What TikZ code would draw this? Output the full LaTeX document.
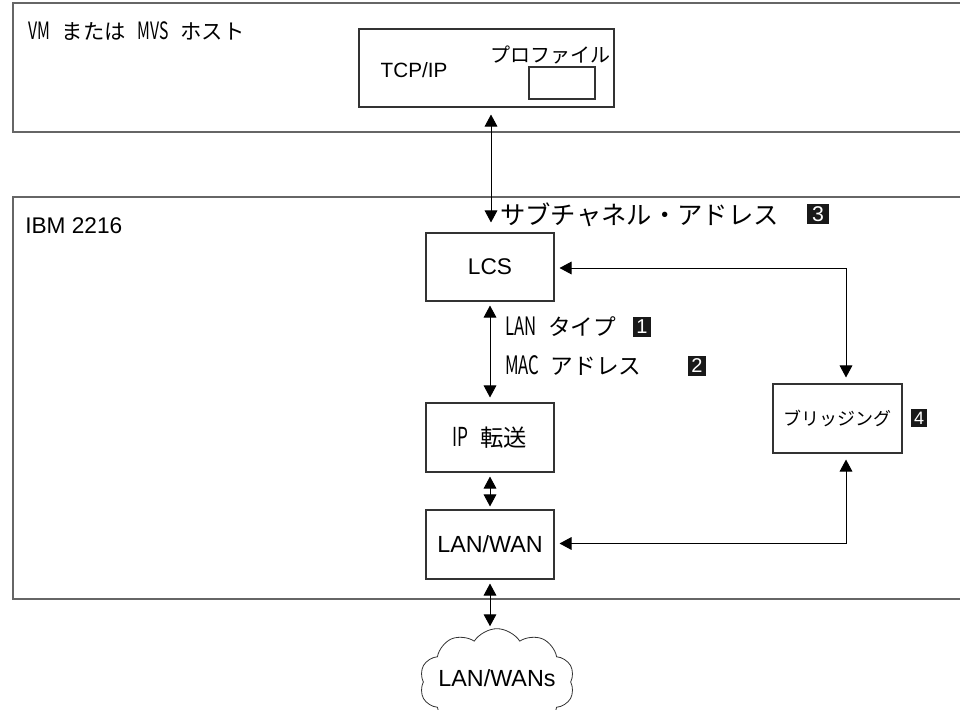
\documentclass[tikz,border=0pt]{standalone}
\usepackage{fontspec}
\setmainfont{Liberation Sans}
\newfontfamily\jp{Noto Sans CJK JP}
\newfontfamily\jlatfont[FakeStretch=0.66,Scale=1.12]{Noto Sans CJK JP}
\newcommand{\jlat}[1]{{\jlatfont #1}}
\usetikzlibrary{arrows.meta,shapes.symbols,calc,fit}
\begin{document}
\begin{tikzpicture}[x=0.75pt,y=-0.75pt,
  outer/.style={draw=black!60, line width=1.2pt, inner sep=0pt},
  box/.style={draw=black!80, line width=0.8pt, rectangle, inner sep=0pt},
  dbl/.style={{Triangle[length=9pt,width=9.5pt]}-{Triangle[length=9pt,width=9.5pt]}, line width=0.75pt},
  num/.style={fill=black!90, text=white, font=\fontsize{15}{15}\selectfont, inner sep=0pt, minimum width=14pt, minimum height=15pt},
  lbl/.style={font=\fontsize{17}{17}\selectfont, inner sep=0pt},
  jlbl/.style={inner sep=0pt, anchor=west}
]
\useasboundingbox (0,0) rectangle (960,710);
\clip (0,0) rectangle (960,710);

% outer boxes
\node[outer, fit={(13,3) (975,132)}] (host) {};
\node[outer, fit={(13,197) (975,599)}] (ibm) {};
\node[jlbl, font=\jp\fontsize{16}{16}\selectfont] (hostlbl) at (28,31)
  {\jlat{VM}\hspace{0.55em}または\hspace{0.55em}\jlat{MVS}\hspace{0.55em}ホスト};
\node[lbl, anchor=west] (ibmlbl) at (25,226) {IBM 2216};

% TCP/IP
\node[box, fit={(359,29) (614,107)}] (tcp) {};
\node[lbl, font=\fontsize{15.5}{15.5}\selectfont] (tcplbl) at (414,70) {TCP/IP};
\node[jlbl, font=\jp\fontsize{15}{15}\selectfont] (proflbl) at (490,55) {プロファイル};
\node[box, fit={(529,67) (595,99)}] (prof) {};

% inner boxes
\node[box, fit={(426,233) (554,301)}] (lcs) {};
\node[lbl] (lcslbl) at (lcs.center) {LCS};
\node[box, fit={(426,403) (554,472)}] (ipf) {};
\node[inner sep=0pt, font=\jp\fontsize{17.5}{17.5}\selectfont] (ipflbl) at (ipf.center) {\jlat{IP}\hspace{0.5em}転送};
\node[box, fit={(426,510) (554,579)}] (lanwan) {};
\node[lbl, font=\fontsize{17.5}{17.5}\selectfont] (lanwanlbl) at (lanwan.center) {LAN/WAN};
\node[box, fit={(773,384) (902,453)}] (bridge) {};
\node[inner sep=0pt, font=\jp\fontsize{13.5}{13.5}\selectfont] (bridgelbl) at (bridge.center) {ブリッジング};

% labels with numbers
\node[jlbl, font=\jp\fontsize{19}{19}\selectfont] (sublbl) at (500,215) {サブチャネル・アドレス};
\node[num, minimum width=16pt, minimum height=15.5pt, font=\fontsize{16}{16}\selectfont] (n3) at (818,214) {3};
\node[jlbl, font=\jp\fontsize{17}{17}\selectfont] (lanlbl) at (505,327) {\jlat{LAN}\hspace{0.5em}タイプ};
\node[num] (n1) at (642,327) {1};
\node[jlbl, font=\jp\fontsize{17}{17}\selectfont] (maclbl) at (505,366) {\jlat{MAC}\hspace{0.5em}アドレス};
\node[num] (n2) at (697,366) {2};
\node[num, minimum width=12.5pt, minimum height=13pt, font=\fontsize{13.5}{13.5}\selectfont] (n4) at (919,418) {4};

% cloud
\node[cloud, draw=black!80, line width=0.6pt, cloud puffs=10, cloud puff arc=115, aspect=1.45,
      minimum width=116pt, minimum height=80pt, inner sep=0pt] (cloud) at (497,682) {};
\node[lbl, font=\fontsize{17.5}{17.5}\selectfont] (cloudlbl) at (497,678) {LAN/WANs};

% connectors
\draw[dbl] ($(tcp.south -| lcs.north)+(1,7)$) -- ($(lcs.north)+(1,-10)$);
\draw[dbl] ($(lcs.east)+(5,1)$) -| ($(bridge.north)+(8.5,-6)$);
\draw[dbl] ($(lcs.south)+(0,4)$) -- ($(ipf.north)+(0,-5)$);
\draw[dbl] ($(ipf.south)+(0,4)$) -- ($(lanwan.north)+(0,-3)$);
\draw[dbl] ($(lanwan.east)+(5,-1)$) -| ($(bridge.south)+(8.5,6)$);
\draw[dbl] ($(lanwan.south)+(0,4)$) -- ($(lanwan.south |- cloud.north)+(0,-2)$);
\end{tikzpicture}
\end{document}
